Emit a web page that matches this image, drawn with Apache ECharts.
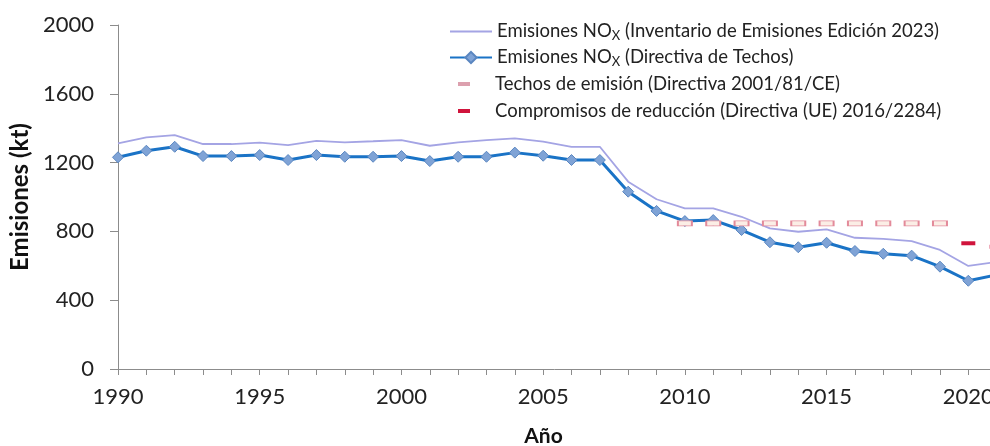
<!DOCTYPE html>
<html>
<head>
<meta charset="utf-8">
<script src="https://cdn.jsdelivr.net/npm/echarts@6/dist/echarts.min.js"></script>
<style>
	html, body { margin: 0; padding: 0; background: #fff; }
	#echart1 { width: 990px; height: 446px; }
</style>
</head>
<body>
<div id="echart1"></div>
<script>
	var years = ['1990','1991','1992','1993','1994','1995','1996','1997','1998','1999',
		'2000','2001','2002','2003','2004','2005','2006','2007','2008','2009',
		'2010','2011','2012','2013','2014','2015','2016','2017','2018','2019',
		'2020','2021','2022'];

	// Inventario de Emisiones Edicion 2023
	var inventario = [1312,1347,1360,1308,1308,1316,1302,1326,1318,1324,
		1331,1298,1318,1331,1341,1322,1292,1292,1089,987,
		934,934,885,818,798,812,763,756,744,692,
		599,622];

	// Directiva de Techos
	var techosDirectiva = [1231,1269,1292,1238,1238,1244,1215,1244,1234,1234,
		1238,1209,1234,1234,1258,1240,1215,1215,1031,919,
		860,866,808,737,708,734,686,670,659,595,
		513,547];

	var techosEmision = [null,null,null,null,null,null,null,null,null,null,
		null,null,null,null,null,null,null,null,null,null,
		847,847,847,847,847,847,847,847,847,847,
		null,null];

	var compromisos = [null,null,null,null,null,null,null,null,null,null,
		null,null,null,null,null,null,null,null,null,null,
		null,null,null,null,null,null,null,null,null,null,
		731,711];

	var yTicks = [0, 400, 800, 1200, 1600, 2000];

	var names = [
		'Emisiones NOx (Inventario de Emisiones Edición 2023)',
		'Emisiones NOx (Directiva de Techos)',
		'Techos de emisión (Directiva 2001/81/CE)',
		'Compromisos de reducción (Directiva (UE) 2016/2284)'
	];

	var font = 'Lato';

	var chartdata1 = [{
		name: names[0],
		type: 'line',
		data: inventario,
		symbol: 'none',
		z: 2,
		lineStyle: { color: '#a4a4e4', width: 1.8 },
		itemStyle: { color: '#a4a4e4' }
	},
	{
		name: names[1],
		type: 'line',
		data: techosDirectiva,
		symbol: 'diamond',
		symbolSize: 11,
		z: 3,
		lineStyle: { color: '#1a73c6', width: 3 },
		itemStyle: { color: '#7fa3d6', borderColor: '#5a86c0', borderWidth: 1 }
	},
	{
		name: names[2],
		type: 'line',
		data: techosEmision,
		symbol: 'rect',
		symbolSize: [14, 5],
		z: 4,
		lineStyle: { width: 0, opacity: 0 },
		itemStyle: { color: '#fbeee6', borderColor: '#e38a9a', borderWidth: 1.2 }
	},
	{
		name: names[3],
		type: 'line',
		data: compromisos,
		symbol: 'rect',
		symbolSize: [14, 4],
		z: 4,
		lineStyle: { width: 0, opacity: 0 },
		itemStyle: { color: '#d0143c' }
	}];

	var legendRich = {
		a: { fontFamily: font, fontSize: 18.5, color: '#222', lineHeight: 22 },
		sub: { fontFamily: font, fontSize: 13, color: '#222', lineHeight: 11, verticalAlign: 'bottom' }
	};

	var option1 = {
		animation: false,
		grid: {
			left: 118,
			top: 25,
			width: 907,
			height: 344,
			containLabel: false,
			outerBoundsMode: 'none'
		},
		legend: [{
			orient: 'vertical',
			left: 449,
			top: 22,
			padding: 0,
			itemWidth: 42,
			itemHeight: 14,
			itemGap: 5.5,
			data: [
				{ name: names[0], itemStyle: { opacity: 0 } },
				names[1]
			],
			formatter: function(name) {
				var rest = name.replace('Emisiones NOx', '');
				return '{a|Emisiones NO}{sub|X}{a|' + rest + '}';
			},
			textStyle: { rich: legendRich }
		},
		{
			orient: 'vertical',
			left: 458,
			top: 73,
			padding: 0,
			icon: 'rect',
			itemWidth: 12,
			itemHeight: 4,
			itemGap: 5,
			data: [
				{ name: names[2], itemStyle: { color: '#dca0ae', borderWidth: 0 } },
				names[3]
			],
			textStyle: {
				fontFamily: font,
				fontSize: 18.5,
				color: '#222',
				lineHeight: 22,
				padding: [0, 0, 0, 20]
			}
		}],
		xAxis: {
			type: 'category',
			data: years,
			boundaryGap: false,
			name: 'Año',
			nameLocation: 'middle',
			nameGap: 57,
			nameTextStyle: {
				fontFamily: font,
				fontSize: 21,
				fontWeight: 'bold',
				color: '#111',
				padding: [0, 56, 0, 0]
			},
			axisLine: { lineStyle: { color: '#8c8c8c', width: 1 } },
			axisTick: { show: true, interval: 0, length: 6, lineStyle: { color: '#8c8c8c' } },
			axisLabel: {
				interval: 4,
				margin: 17,
				fontFamily: font,
				fontSize: 22,
				color: '#222'
			},
			splitLine: { show: false }
		},
		yAxis: {
			type: 'value',
			min: yTicks[0],
			max: yTicks[yTicks.length - 1],
			interval: yTicks[1] - yTicks[0],
			name: 'Emisiones (kt)',
			nameLocation: 'middle',
			nameGap: 84,
			nameTextStyle: {
				fontFamily: font,
				fontSize: 24,
				fontWeight: 'bold',
				color: '#111'
			},
			axisLine: { show: true, lineStyle: { color: '#8c8c8c', width: 1 } },
			axisTick: { show: true, length: 8, lineStyle: { color: '#8c8c8c' } },
			axisLabel: {
				margin: 24,
				fontFamily: font,
				fontSize: 22,
				color: '#222',
				formatter: function(v) { return String(v); }
			},
			splitLine: { show: false }
		},
		series: chartdata1
	};
	var chart1 = document.getElementById('echart1');
	var lineChart1 = echarts.init(chart1);
	lineChart1.setOption(option1);
</script>
</body>
</html>
